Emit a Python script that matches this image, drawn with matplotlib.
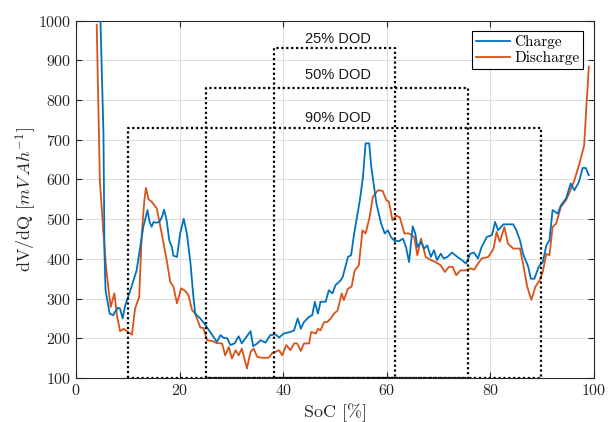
import numpy as np
import matplotlib
matplotlib.use('Agg')
import matplotlib.pyplot as plt

# charge / discharge dV/dQ curves
charge_soc = [4.7, 5.3, 5.5, 5.7, 6.5, 7.2, 7.5, 8.1, 8.5, 9.0, 9.5, 10.5, 11.1, 11.7, 12.4, 13.0,
	13.8, 14.2, 14.6, 15.0, 15.5, 16.1, 16.6, 17.0, 17.5, 18.0, 18.5, 18.8, 19.5, 20.1, 20.8, 21.4,
	22.1, 22.6, 23.0, 24.0, 25.0, 25.9, 26.6, 27.2, 27.9, 28.5, 29.2, 29.8, 30.6, 31.4, 32.0, 32.7,
	33.7, 34.2, 35.0, 35.6, 36.6, 37.5, 38.5, 39.2, 40.1, 41.4, 42.1, 42.8, 43.4, 44.0, 45.0, 45.6,
	46.1, 46.7, 47.2, 48.2, 48.8, 49.5, 50.1, 51.1, 51.5, 52.5, 53.1, 53.7, 54.8, 55.4, 55.9, 56.6,
	57.0, 58.0, 58.9, 59.6, 60.2, 60.8, 61.5, 62.4, 63.1, 63.7, 64.3, 65.0, 65.5, 65.9, 66.6, 67.2,
	67.8, 68.5, 69.1, 69.7, 70.4, 71.0, 71.7, 72.6, 73.6, 74.5, 75.3, 76.1, 76.8, 77.6, 78.3, 79.3,
	80.3, 80.9, 81.5, 82.5, 84.4, 85.0, 85.7, 86.3, 87.3, 87.8, 88.5, 89.3, 90.1, 90.8, 91.4, 92.0,
	93.0, 93.6, 94.6, 95.5, 96.2, 97.1, 97.8, 98.4, 99.0]
charge_dvdq = [1010, 716, 413, 321, 262, 258, 266, 277, 275, 250, 283, 321, 346, 371, 430, 481,
	523, 493, 481, 493, 491, 493, 506, 524, 497, 447, 430, 408, 405, 464, 501, 464,
	389, 313, 262, 250, 233, 216, 203, 191, 208, 201, 200, 183, 187, 205, 187, 200,
	218, 180, 187, 195, 189, 208, 210, 202, 212, 216, 220, 250, 224, 241, 254, 258,
	292, 262, 292, 292, 321, 313, 334, 346, 355, 405, 409, 464, 548, 607, 691, 691,
	632, 539, 489, 464, 472, 455, 445, 445, 451, 430, 392, 482, 464, 430, 443, 426,
	434, 405, 422, 397, 413, 401, 405, 416, 405, 397, 388, 413, 416, 401, 430, 455,
	460, 493, 472, 487, 487, 472, 447, 413, 380, 350, 350, 380, 392, 434, 447, 523,
	514, 535, 552, 590, 573, 594, 629, 629, 611]

discharge_soc = [4.0, 4.6, 5.3, 5.8, 6.3, 6.7, 7.4, 7.9, 8.5, 9.2, 9.8, 10.8, 11.4, 12.2, 12.7, 13.2,
	13.5, 14.0, 14.6, 15.6, 16.6, 17.5, 18.2, 18.8, 19.5, 20.3, 21.1, 21.7, 22.4, 23.0, 24.0, 24.6,
	25.3, 26.3, 27.2, 28.2, 28.8, 29.5, 30.1, 30.8, 31.4, 32.0, 32.5, 33.0, 33.7, 34.3, 35.0, 35.9,
	37.2, 37.9, 38.5, 39.2, 39.8, 40.6, 41.4, 42.1, 42.7, 43.4, 44.0, 45.0, 45.4, 46.3, 46.7, 47.2,
	47.9, 48.5, 49.2, 49.8, 50.5, 51.3, 51.7, 52.5, 53.2, 53.8, 54.6, 55.3, 55.9, 56.7, 57.3, 58.3,
	59.2, 59.9, 60.4, 61.1, 61.8, 62.5, 63.4, 64.3, 65.3, 65.9, 66.6, 67.5, 68.5, 69.4, 70.4, 71.2,
	72.0, 72.7, 73.4, 74.2, 75.2, 76.1, 76.9, 77.6, 78.3, 79.6, 80.6, 81.2, 81.8, 82.7, 83.4, 84.4,
	85.7, 86.3, 87.1, 87.9, 88.7, 89.5, 90.1, 90.8, 91.4, 92.0, 92.7, 93.6, 94.6, 95.2, 96.2, 97.1,
	98.1, 98.6, 99.0]
discharge_dvdq = [990, 598, 464, 380, 321, 279, 313, 258, 218, 224, 218, 209, 275, 304, 464, 548,
	579, 550, 544, 527, 460, 397, 342, 330, 288, 326, 319, 308, 271, 262, 227, 226,
	195, 193, 188, 187, 157, 178, 149, 170, 157, 174, 149, 124, 166, 174, 153, 151,
	151, 163, 166, 170, 157, 183, 170, 187, 187, 168, 187, 187, 216, 212, 224, 220,
	241, 241, 250, 262, 270, 313, 296, 325, 330, 371, 384, 472, 464, 506, 556, 573,
	571, 548, 544, 497, 509, 505, 464, 464, 455, 409, 451, 405, 397, 392, 384, 367,
	380, 380, 359, 371, 371, 376, 373, 388, 401, 405, 426, 468, 443, 480, 438, 426,
	426, 388, 330, 297, 330, 346, 367, 413, 409, 480, 489, 531, 548, 565, 598, 636,
	686, 800, 884]

# depth-of-discharge windows
dod_labels = ['25% DOD', '50% DOD', '90% DOD']
dod_lo = [38.3, 25.0, 10.0]
dod_hi = [61.5, 75.7, 89.8]
dod_top = [930, 830, 730]
dod_label_y = [953, 863, 755]

plt.rcParams['font.family'] = 'serif'
plt.rcParams['font.serif'] = ['cmr10']
plt.rcParams['mathtext.fontset'] = 'cm'
plt.rcParams['axes.formatter.use_mathtext'] = True

fig = plt.figure(figsize=(6.09, 4.22), dpi=100)
ax = fig.add_axes([0.1248, 0.1043, 0.8506, 0.8467])

ax.plot(charge_soc, charge_dvdq, color='#0072BD', lw=1.3, label='Charge', zorder=3)
ax.plot(discharge_soc, discharge_dvdq, color='#D95319', lw=1.3, label='Discharge', zorder=2)

for lab, lo, hi, top, ly in zip(dod_labels, dod_lo, dod_hi, dod_top, dod_label_y):
	ax.plot([lo, lo, hi, hi, lo], [100, top, top, 100, 100], color='black', ls=(0, (1, 1.2)), lw=1.6, zorder=4)
	ax.text(50.5, ly, lab, ha='center', va='center', fontsize=10.5, family='Liberation Sans', color='#1a1a1a')

ax.set_xlim(0, 100)
ax.set_ylim(100, 1000)
ax.set_xticks(np.arange(0, 101, 20))
ax.set_yticks(np.arange(100, 1001, 100))
ax.grid(True, color='#dcdcdc', lw=0.7)
ax.set_axisbelow(True)
ax.tick_params(direction='in', top=True, right=True, length=4, labelsize=11.5, labelcolor='#262626', color='#262626')
for s in ax.spines.values():
	s.set_color('#262626')
	s.set_linewidth(0.8)

ax.set_xlabel('SoC [%]', fontsize=13, color='#262626')
ax.set_ylabel('dV/dQ [$mV\\,Ah^{-1}$]', fontsize=13, color='#262626', labelpad=-1)

leg = ax.legend(loc='upper right', fontsize=11, fancybox=False, framealpha=1, edgecolor='black',
	borderpad=0.25, handlelength=2.2, handletextpad=0.3, labelspacing=0.15, borderaxespad=0.7)
leg.get_frame().set_linewidth(0.8)

fig.savefig('out.png', dpi=100)
